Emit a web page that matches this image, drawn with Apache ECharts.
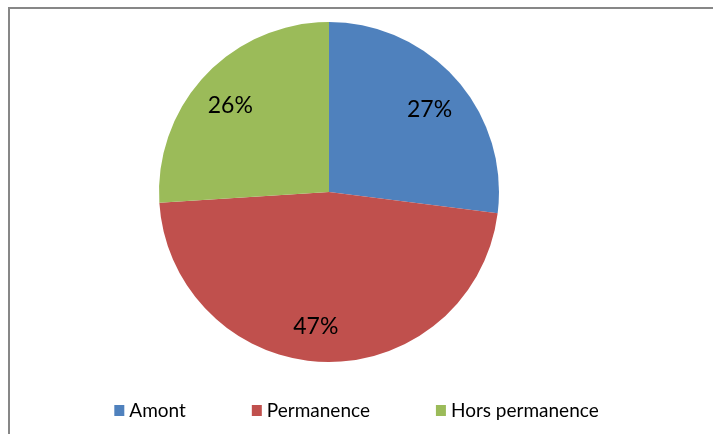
<!DOCTYPE html>
<html>
<head>
<meta charset="utf-8">
<script src="https://cdn.jsdelivr.net/npm/echarts@6/dist/echarts.min.js"></script>
<style>
	html, body { margin: 0; padding: 0; background: #fff; }
	#main { width: 713px; height: 434px; }
</style>
</head>
<body>
<div id="main"></div>
<script>
// données du graphique
const categories = ['Amont', 'Permanence', 'Hors permanence'];
const values = [27, 47, 26];
const colors = ['#4F81BD', '#C0504D', '#9BBB59'];

const chart = echarts.init(document.getElementById('main'));

const pieData = categories.map(function (name, i) {
	return { name: name, value: values[i], itemStyle: { color: colors[i] } };
});

// petit décalage des étiquettes pour coller au rendu d'origine
const labelShift = { 'Amont': [0, 6], 'Permanence': [-9, 1], 'Hors permanence': [-1, 5] };

const option = {
	backgroundColor: '#fff',
	animation: false,
	// cadre gris du graphique
	graphic: [{
		type: 'rect',
		shape: { x: 9, y: 8, width: 740, height: 460 },
		style: { fill: 'none', stroke: '#878787', lineWidth: 2 },
		silent: true
	}],
	legend: {
		bottom: 9,
		left: 'center',
		itemWidth: 10,
		itemHeight: 11,
		itemGap: 66,
		icon: 'rect',
		textStyle: { fontFamily: 'Lato', fontSize: 19, color: '#000' },
		data: categories
	},
	series: [{
			// secteurs
			type: 'pie',
			center: [329, 192],
			radius: [0, 170],
			startAngle: 90,
			clockwise: true,
			label: { show: false },
			labelLine: { show: false },
			emphasis: { disabled: true },
			data: pieData
		}, {
			// étiquettes (anneau invisible pour placer les pourcentages)
			type: 'pie',
			center: [329, 192],
			radius: [92, 170],
			startAngle: 90,
			clockwise: true,
			silent: true,
			itemStyle: { color: 'transparent', borderWidth: 0 },
			label: {
				show: true,
				position: 'inside',
				formatter: '{d}%',
				fontFamily: 'Lato',
				fontSize: 23,
				color: '#000'
			},
			labelLine: { show: false },
			emphasis: { disabled: true },
			data: categories.map(function (name, i) {
				return { name: name, value: values[i], label: { offset: labelShift[name] } };
			})
		}
	]
};

chart.setOption(option);
</script>
</body>
</html>
